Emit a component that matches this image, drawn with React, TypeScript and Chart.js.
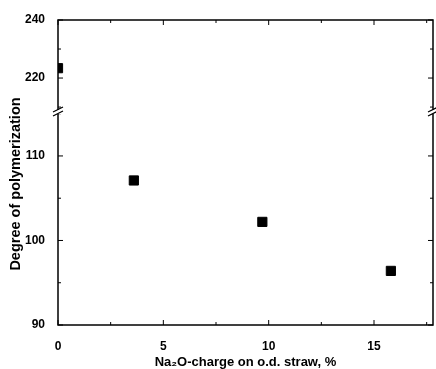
import React, { useEffect, useRef } from "react";
import { Chart, registerables } from "chart.js";

Chart.register(...registerables);

const xTop = [0];
const yTopValues = [223.4];
const xBottom = [3.6, 9.7, 15.8];
const yBottomValues = [107.1, 102.2, 96.4];
const xTickValues = [0, 5, 10, 15];
const yTopTickValues = [220, 240];
const yBottomTickValues = [90, 100, 110];
const xTitle = "Na\u2082O-charge on o.d. straw, %";
const yTitle = "Degree of polymerization";

const FONT = "'Liberation Sans', Arial, sans-serif";

const framePlugin = {
  id: "frame",
  afterDraw(chart: any) {
    const { ctx, chartArea, scales } = chart;
    const { left, right, top, bottom } = chartArea;
    ctx.save();
    ctx.strokeStyle = "#000";
    ctx.lineWidth = 1.5;
    ctx.strokeRect(left, top, right - left, bottom - top);
    const xs = scales.x;
    ctx.lineWidth = 1;
    for (let v = 0; v <= xs.max; v += 2.5) {
      const px = xs.getPixelForValue(v);
      const len = v % 5 === 0 ? 5 : 3;
      ctx.beginPath();
      ctx.moveTo(px, bottom);
      ctx.lineTo(px, bottom - len);
      ctx.moveTo(px, top);
      ctx.lineTo(px, top + len);
      ctx.stroke();
    }
    const drawY = (s: any, step: number, major: number) => {
      for (let v = Math.ceil(s.min / step) * step; v <= s.max; v += step) {
        const py = s.getPixelForValue(v);
        const len = v % major === 0 ? 5 : 3;
        ctx.beginPath();
        ctx.moveTo(left, py);
        ctx.lineTo(left + len, py);
        ctx.moveTo(right, py);
        ctx.lineTo(right - len, py);
        ctx.stroke();
      }
    };
    drawY(scales.yTop, 10, 20);
    drawY(scales.yBot, 5, 10);
    const yb = scales.yBot.top;
    [left, right].forEach((ax) => {
      ctx.fillStyle = "#fff";
      ctx.fillRect(ax - 3, yb - 2, 6, 4);
      ctx.strokeStyle = "#000";
      ctx.lineWidth = 1.2;
      ctx.beginPath();
      ctx.moveTo(ax - 5, yb);
      ctx.lineTo(ax + 5, yb - 5);
      ctx.moveTo(ax - 5, yb + 4);
      ctx.lineTo(ax + 5, yb - 1);
      ctx.stroke();
    });
    ctx.fillStyle = "#000";
    ctx.textAlign = "center";
    ctx.textBaseline = "middle";
    ctx.font = `bold 13px ${FONT}`;
    ctx.fillText(xTitle, (left + right) / 2, 362);
    ctx.font = `bold 14.5px ${FONT}`;
    ctx.translate(16, 184);
    ctx.rotate(-Math.PI / 2);
    ctx.fillText(yTitle, 0, 0);
    ctx.restore();
  },
};

export default function App() {
  const ref = useRef<HTMLCanvasElement>(null);
  useEffect(() => {
    const tickFont = { family: FONT, size: 12, weight: "bold" as const };
    const chart = new Chart(ref.current!, {
      type: "scatter",
      data: {
        datasets: [
          {
            data: xTop.map((x, i) => ({ x, y: yTopValues[i] })),
            yAxisID: "yTop",
            pointStyle: "rect",
            radius: 6.5,
            backgroundColor: "#000",
            borderColor: "#000",
          },
          {
            data: xBottom.map((x, i) => ({ x, y: yBottomValues[i] })),
            yAxisID: "yBot",
            pointStyle: "rect",
            radius: 6.5,
            backgroundColor: "#000",
            borderColor: "#000",
          },
        ],
      },
      options: {
        animation: false,
        responsive: false,
        layout: { autoPadding: false, padding: { top: 20, right: 3, left: 0, bottom: 0 } },
        plugins: { legend: { display: false }, tooltip: { enabled: false } },
        scales: {
          x: {
            type: "linear",
            min: 0,
            max: 17.8,
            grid: { display: false },
            border: { display: false },
            ticks: { color: "#000", font: tickFont, padding: 6 },
            afterBuildTicks: (s: any) => {
              s.ticks = xTickValues.map((value) => ({ value }));
            },
            afterFit: (s: any) => {
              s.height = 44;
              s.paddingLeft = 0;
              s.paddingRight = 0;
            },
          },
          yBot: {
            type: "linear",
            position: "left",
            stack: "y",
            stackWeight: 213,
            min: 90,
            max: 115.2,
            grid: { display: false },
            border: { display: false },
            ticks: { color: "#000", font: tickFont, padding: 5 },
            afterBuildTicks: (s: any) => {
              s.ticks = yBottomTickValues.map((value) => ({ value }));
            },
            afterFit: (s: any) => {
              s.width = 58;
            },
          },
          yTop: {
            type: "linear",
            position: "left",
            stack: "y",
            stackWeight: 92,
            min: 208.3,
            max: 240,
            grid: { display: false },
            border: { display: false },
            ticks: { color: "#000", font: tickFont, padding: 5 },
            afterBuildTicks: (s: any) => {
              s.ticks = yTopTickValues.map((value) => ({ value }));
            },
            afterFit: (s: any) => {
              s.width = 58;
            },
          },
        },
      } as any,
      plugins: [framePlugin],
    });
    return () => chart.destroy();
  }, []);
  return (
    <div style={{ position: "fixed", left: 0, top: 0, width: 436, height: 369, background: "#fff" }}>
      <canvas ref={ref} width={436} height={369} style={{ width: 436, height: 369 }} />
    </div>
  );
}
